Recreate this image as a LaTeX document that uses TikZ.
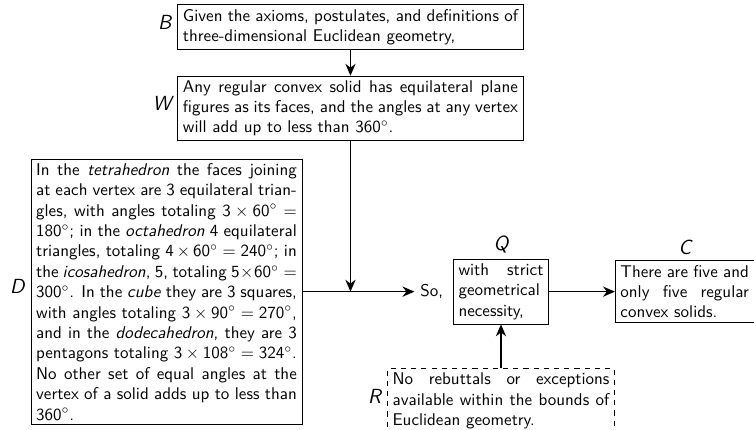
\documentclass[tikz,border=0pt]{standalone}
\usepackage{amsmath}
\usetikzlibrary{arrows.meta, positioning}
\renewcommand{\familydefault}{\sfdefault}
\everymath{\sf}

\begin{document}
\begin{tikzpicture}[
    node distance=1.6cm,
    block/.style={rectangle, draw, line width=0.5pt, inner xsep=3pt, inner ysep=2.5pt, align=justify},
    rebut/.style={block, dashed},
    tag/.style={font=\large\itshape, yshift=3pt},
    arrow/.style={-{Stealth[length=7pt,width=6pt]}, line width=0.9pt}
]
    \useasboundingbox (0,0) rectangle (443.4pt,-252.3pt);

    \node[block, text width=197pt] (B) at (206.1pt,-15.9pt) {Given the axioms, postulates, and definitions of three-dimensional Euclidean geometry,};
    \node[block, text width=197pt] (W) [below=15.3pt of B] {Any regular convex solid has equilateral plane figures as its faces, and the angles at any vertex will add up to less than $360^\circ$.};
    \node[block, text width=153.3pt] (D) at (97.9pt,-171.5pt) {In the \textit{tetrahedron} the faces joining at each vertex are 3 equilateral triangles, with angles totaling $3\times60^\circ = 180^\circ$; in the \textit{octahedron} 4 equilateral triangles, totaling $4\times60^\circ = 240^\circ$; in the \textit{icosahedron}, 5, totaling $5\times60^\circ = 300^\circ$. In the \textit{cube} they are 3 squares, with angles totaling $3\times90^\circ = 270^\circ$, and in the \textit{dodecahedron}, they are 3 pentagons totaling $3\times108^\circ = 324^\circ$. No other set of equal angles at the vertex of a solid adds up to less than $360^\circ$.};
    \node (so) [right=65.9pt of D] {So,};
    \node[block, text width=49.9pt] (Q) [right=2.3pt of so] {with strict geometrical necessity,};
    \node[block, text width=75.5pt] (C) [right=38.8pt of Q] {There are five and only five regular convex solids.};
    \node[rebut, text width=127.5pt] (R) [below=25.9pt of Q] {No rebuttals or exceptions available within the bounds of Euclidean geometry.\rule[-8pt]{0pt}{8pt}};

    % letters of the Toulmin scheme
    \node[tag] (Blab) [left=0pt of B] {B};
    \node[tag] (Wlab) [left=0pt of W] {W};
    \node[tag] (Dlab) [left=0pt of D] {D};
    \node[tag, yshift=3pt] (Rlab) [left=0pt of R] {R};
    \node[font=\large\itshape] (Qlab) [above=0pt of Q] {Q};
    \node[font=\large\itshape] (Clab) [above=0pt of C] {C};

    \coordinate (J) at (W.south |- D.east);
    \draw[arrow] (B) -- (W);
    \draw[arrow] (W) -- (J);
    \draw[arrow] (D) -- (so);
    \draw[arrow] (Q) -- (C);
    \draw[arrow] (R) -- (Q);
\end{tikzpicture}
\end{document}
